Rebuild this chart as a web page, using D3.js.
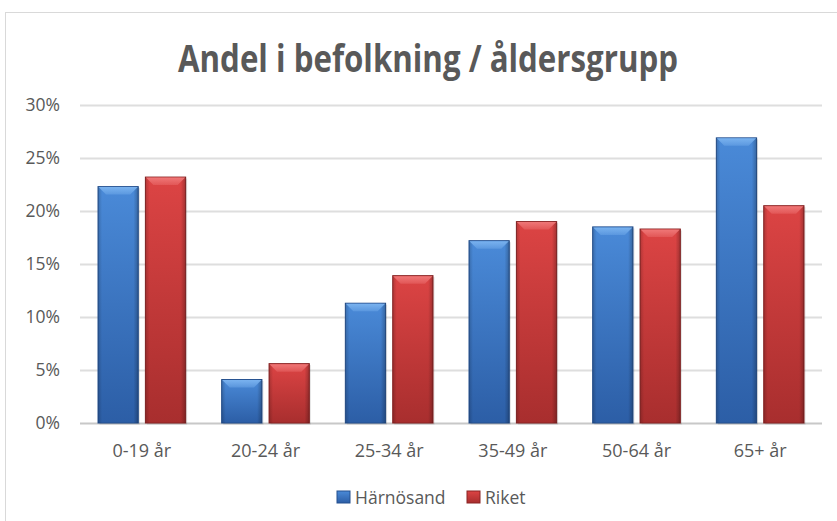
<!DOCTYPE html>
<html>
<head>
<meta charset="utf-8">
<script src="https://cdn.jsdelivr.net/npm/d3@7"></script>
<style>
  body { margin: 0; background: #fff; }
  text { font-family: "Open Sans", sans-serif; fill: #595959; }
</style>
</head>
<body>
<div id="viz-container"></div>
<script>
// data
let categories = ["0-19 år", "20-24 år", "25-34 år", "35-49 år", "50-64 år", "65+ år"];
let seriesNames = ["Härnösand", "Riket"];
let harnosand = [0.223, 0.041, 0.113, 0.172, 0.185, 0.269];
let riket = [0.232, 0.056, 0.139, 0.190, 0.183, 0.205];
let yTicks = [0, 0.05, 0.10, 0.15, 0.20, 0.25, 0.30];

let width = 837, height = 521;
let plotLeft = 80, plotRight = 822, plotTop = 105, plotBottom = 423;

let viz = d3.select("#viz-container")
  .append("svg")
    .attr("width", width)
    .attr("height", height)
  ;

// frame of the chart area
viz.append("rect")
  .attr("x", 5.5).attr("y", 12.5)
  .attr("width", 840).attr("height", 520)
  .attr("fill", "none")
  .attr("stroke", "#d9d9d9");

let colors = {
  "Härnösand": {top: "#4a8ad8", bottom: "#2c5ea6", edge: "#24508f", bevel: "#7cb4f0"},
  "Riket": {top: "#dc4444", bottom: "#a82e2e", edge: "#8a2424", bevel: "#f07a7a"}
};

let defs = viz.append("defs");
seriesNames.forEach(function(s, i){
  let g = defs.append("linearGradient")
    .attr("id", "grad" + i)
    .attr("x1", 0).attr("y1", 0).attr("x2", 0).attr("y2", 1);
  g.append("stop").attr("offset", "0%").attr("stop-color", colors[s].top);
  g.append("stop").attr("offset", "100%").attr("stop-color", colors[s].bottom);
  let h = defs.append("linearGradient")
    .attr("id", "side" + i)
    .attr("x1", 0).attr("y1", 0).attr("x2", 1).attr("y2", 0);
  h.append("stop").attr("offset", "0%").attr("stop-color", "#000").attr("stop-opacity", 0.18);
  h.append("stop").attr("offset", "10%").attr("stop-color", "#000").attr("stop-opacity", 0);
  h.append("stop").attr("offset", "88%").attr("stop-color", "#000").attr("stop-opacity", 0);
  h.append("stop").attr("offset", "100%").attr("stop-color", "#000").attr("stop-opacity", 0.25);
  let b = defs.append("linearGradient")
    .attr("id", "bevel" + i)
    .attr("x1", 0).attr("y1", 0).attr("x2", 0).attr("y2", 1);
  b.append("stop").attr("offset", "0%").attr("stop-color", colors[s].bevel).attr("stop-opacity", 0.95);
  b.append("stop").attr("offset", "100%").attr("stop-color", colors[s].bevel).attr("stop-opacity", 0.35);
});

let x0 = d3.scaleBand().domain(categories).range([plotLeft, plotRight]).padding(0);
let x1 = d3.scaleBand().domain(seriesNames)
  .range([18, x0.bandwidth() - 18]).paddingInner(0.15);
let y = d3.scaleLinear().domain([0, 0.30]).range([plotBottom, plotTop]);

// gridlines
viz.append("g")
  .selectAll("line").data(yTicks).enter()
  .append("line")
    .attr("x1", plotLeft).attr("x2", plotRight)
    .attr("y1", function(d){ return Math.round(y(d)) + 0.5; })
    .attr("y2", function(d){ return Math.round(y(d)) + 0.5; })
    .attr("stroke", function(d){ return d == 0 ? "#c8c8c8" : "#dedede"; })
    .attr("stroke-width", 2);

// y axis labels
let yAxis = d3.axisLeft(y).tickValues(yTicks).tickFormat(d3.format(".0%")).tickSize(0).tickPadding(20);
let ya = viz.append("g").attr("transform", "translate(" + plotLeft + ",0)").call(yAxis);
ya.select(".domain").remove();
ya.selectAll("text").style("font-size", "17.5px").style("fill", "#595959").attr("font-family", "Open Sans");

// x axis labels
let xAxis = d3.axisBottom(x0).tickSize(0).tickPadding(21);
let xa = viz.append("g").attr("transform", "translate(0," + plotBottom + ")").call(xAxis);
xa.select(".domain").remove();
xa.selectAll("text").style("font-size", "18px").style("fill", "#595959").attr("font-family", "Open Sans");

let rows = [];
categories.forEach(function(c, i){
  rows.push({cat: c, s: "Härnösand", si: 0, v: harnosand[i]});
  rows.push({cat: c, s: "Riket", si: 1, v: riket[i]});
});

let bars = viz.append("g").selectAll("g").data(rows).enter().append("g");

// soft shadow
bars.append("rect")
  .attr("x", function(d){ return x0(d.cat) + x1(d.s) + 1.5; })
  .attr("y", function(d){ return y(d.v) + 1.5; })
  .attr("width", x1.bandwidth())
  .attr("height", function(d){ return plotBottom - y(d.v); })
  .attr("fill", "#000").attr("opacity", 0.12);

bars.append("rect")
  .attr("x", function(d){ return x0(d.cat) + x1(d.s); })
  .attr("y", function(d){ return y(d.v); })
  .attr("width", x1.bandwidth())
  .attr("height", function(d){ return plotBottom - y(d.v); })
  .attr("fill", function(d){ return "url(#grad" + d.si + ")"; })
  .attr("stroke", function(d){ return colors[d.s].edge; })
  .attr("stroke-width", 1);

bars.append("rect")
  .attr("x", function(d){ return x0(d.cat) + x1(d.s); })
  .attr("y", function(d){ return y(d.v); })
  .attr("width", x1.bandwidth())
  .attr("height", function(d){ return plotBottom - y(d.v); })
  .attr("fill", function(d){ return "url(#side" + d.si + ")"; });

// top bevel
bars.append("polygon")
  .attr("points", function(d){
    let xl = x0(d.cat) + x1(d.s), xr = xl + x1.bandwidth(), yt = y(d.v);
    return [[xl + 0.5, yt + 0.5], [xr - 0.5, yt + 0.5], [xr - 8, yt + 8], [xl + 8, yt + 8]].join(" ");
  })
  .attr("fill", function(d){ return "url(#bevel" + d.si + ")"; });

// title
viz.append("text")
  .attr("x", 428).attr("y", 72)
  .attr("text-anchor", "middle")
  .attr("textLength", 500)
  .attr("lengthAdjust", "spacingAndGlyphs")
  .style("font-size", "38px")
  .style("font-weight", "bold")
  .style("fill", "#595959")
  .text("Andel i befolkning / åldersgrupp");

// legend
let legendX = [337, 467];
let legend = viz.append("g").selectAll("g").data(seriesNames).enter().append("g")
  .attr("transform", function(d, i){ return "translate(" + legendX[i] + ",491)"; });
legend.append("rect")
  .attr("width", 13).attr("height", 12)
  .attr("fill", function(d, i){ return "url(#grad" + i + ")"; })
  .attr("stroke", function(d){ return colors[d].edge; });
legend.append("text")
  .attr("x", 18).attr("y", 13)
  .style("font-size", "17.5px")
  .text(function(d){ return d; });
</script>
</body>
</html>
